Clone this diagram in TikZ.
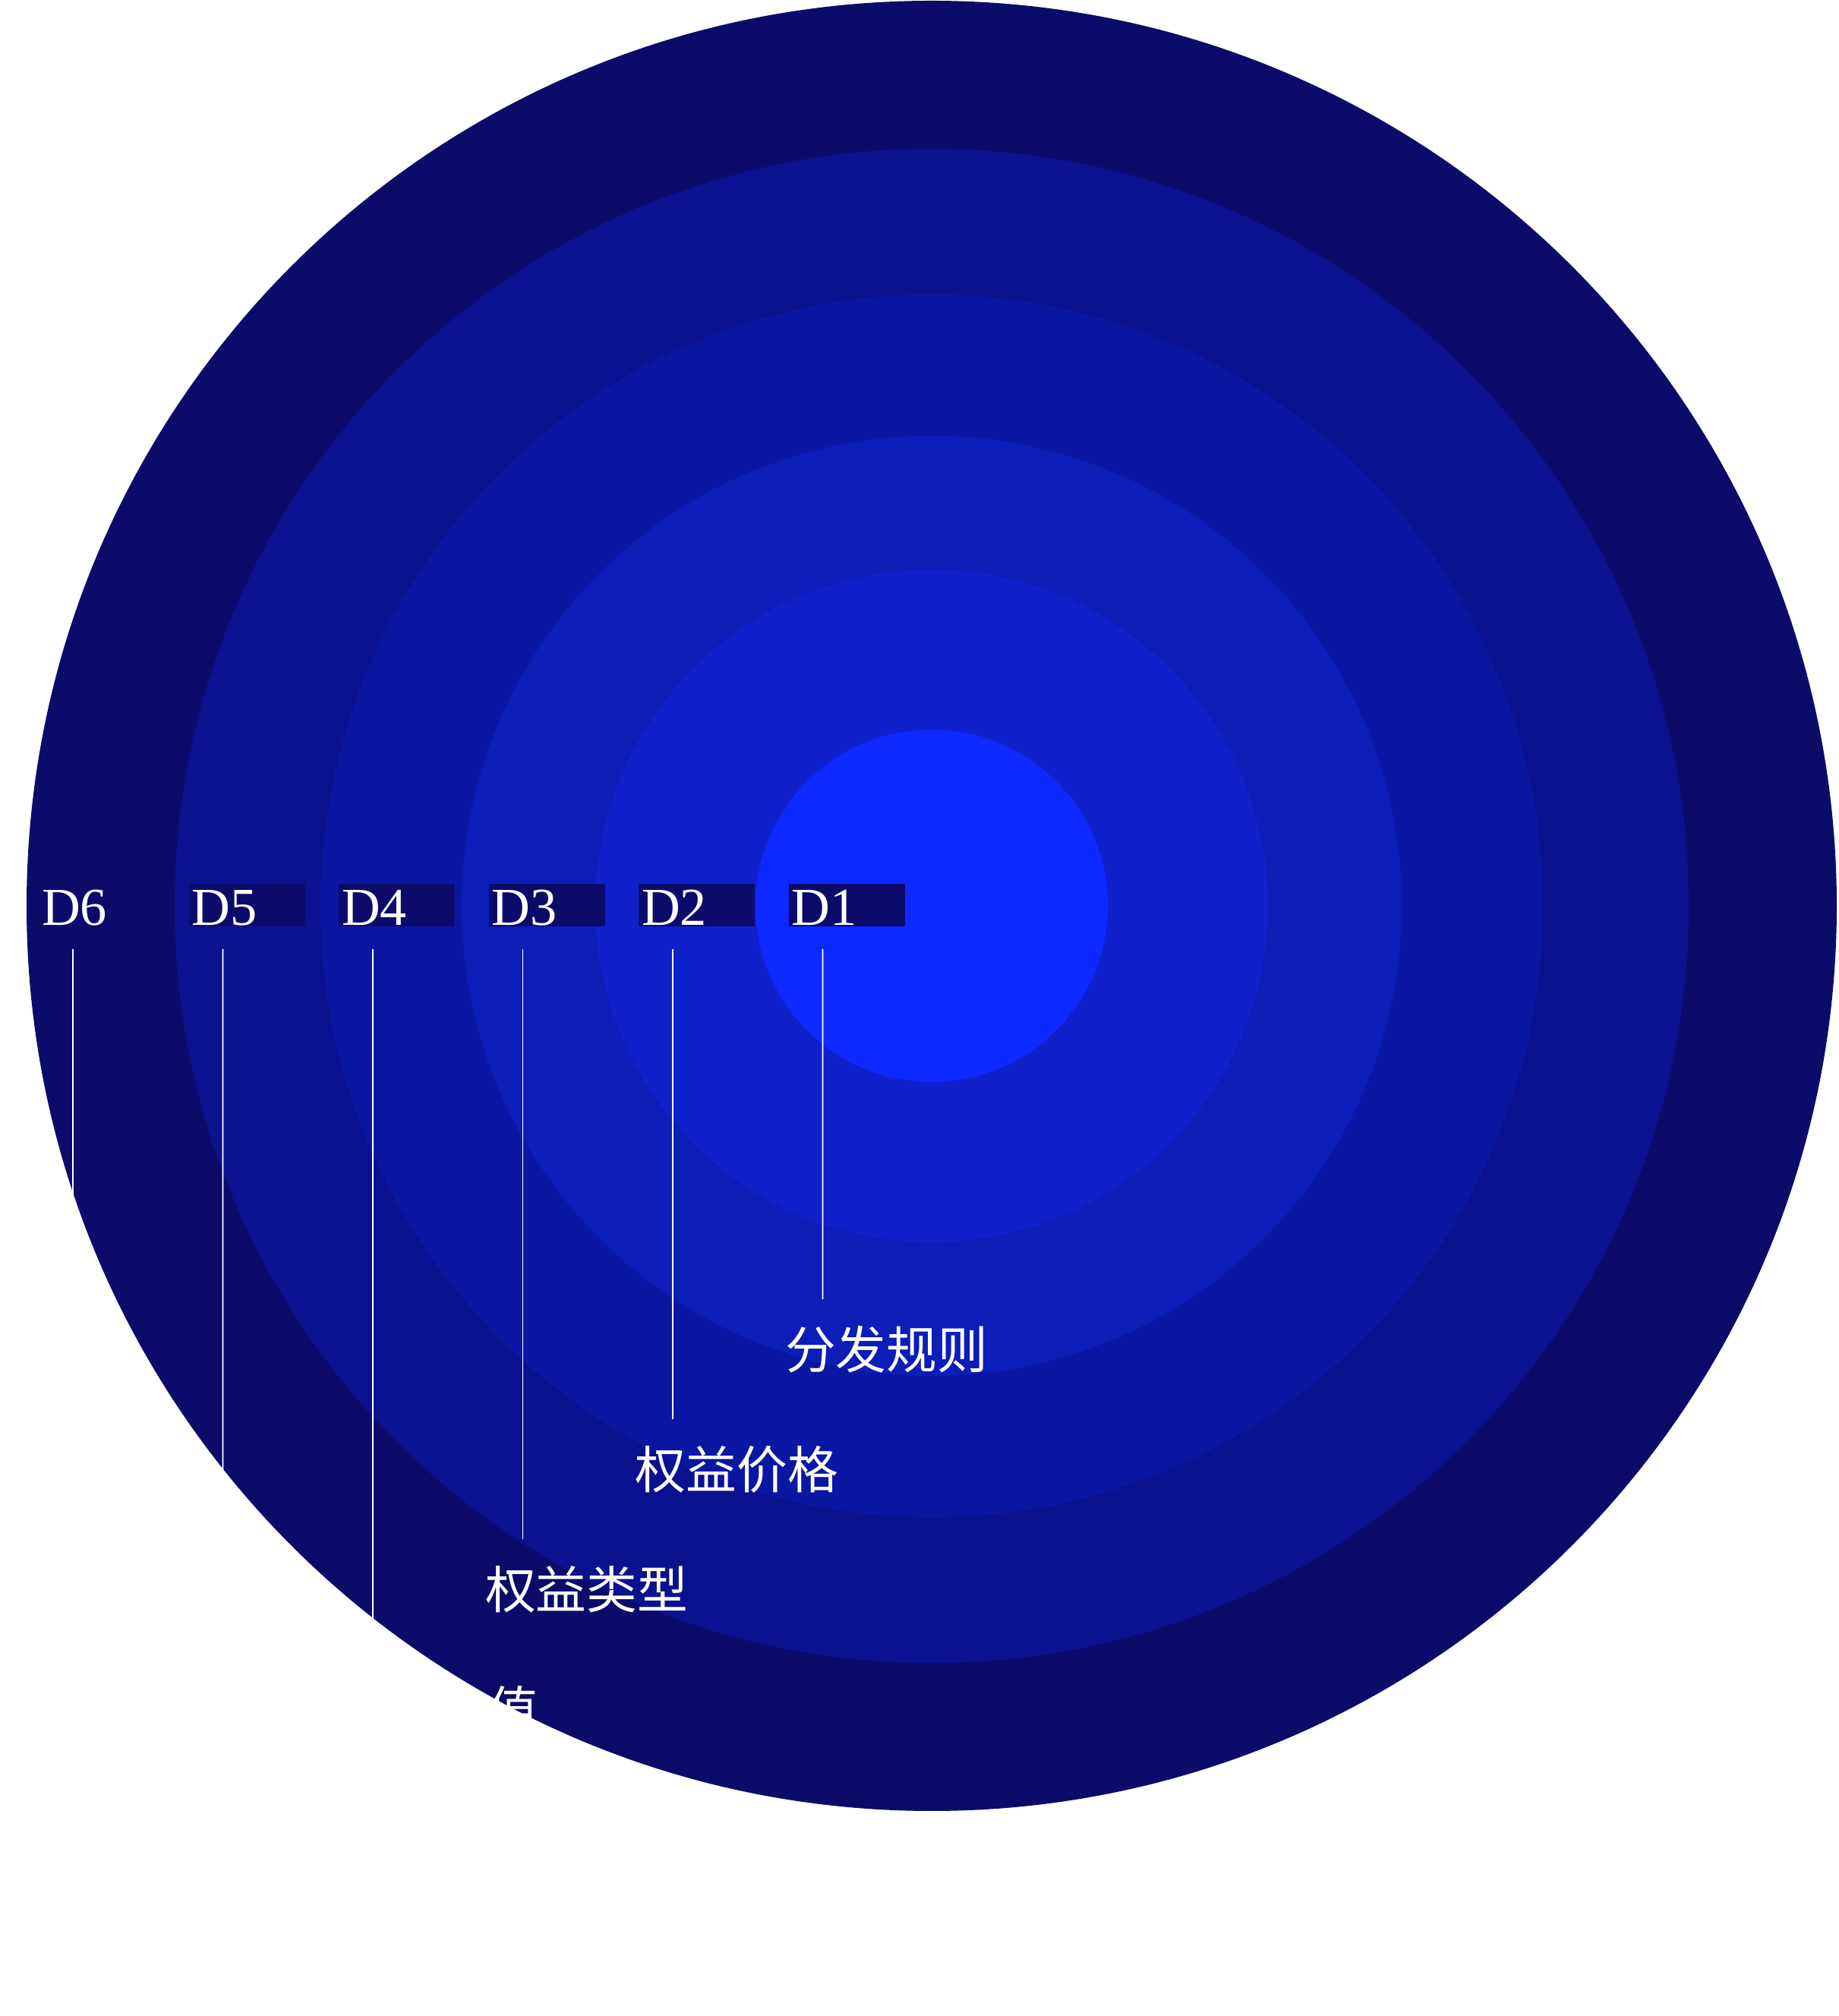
\documentclass[tikz,border=0pt]{standalone}
\usepackage{fontspec}
\newfontfamily\cjk{Noto Sans CJK SC}
\newfontfamily\dfont{Liberation Serif}
\usepackage{tikz}
\definecolor{ring6}{RGB}{11,12,106}
\definecolor{ring5}{RGB}{11,18,144}
\definecolor{ring4}{RGB}{11,23,163}
\definecolor{ring3}{RGB}{13,29,184}
\definecolor{ring2}{RGB}{14,33,203}
\definecolor{ring1}{RGB}{14,41,255}

\begin{document}
\begin{tikzpicture}[
  x=1cm, y=1cm,
  dbox/.style={fill=ring6, anchor=south west, inner xsep=0.04cm, inner ysep=0.01cm,
               text width=1.45cm, align=left, text height=0.53cm, text depth=0.01cm,
               font=\dfont\fontsize{20}{24}\selectfont, text=white},
  lbl/.style={anchor=base west, inner sep=0pt, text=white,
              font=\cjk\fontsize{19}{23}\selectfont},
  lead/.style={draw=white, line width=0.45pt}
]
\useasboundingbox (0,0) rectangle (24.21,26.55);

%% ---- anillos ----
\fill[ring6] (12.27,14.62) circle (11.92);
\fill[ring5] (12.27,14.62) circle (9.97);
\fill[ring4] (12.27,14.62) circle (8.05);
\fill[ring3] (12.27,14.62) circle (6.19);
\fill[ring2] (12.27,14.62) circle (4.43);
\fill[ring1] (12.27,14.62) circle (2.32);

%% ---- etiquetas D ----
\node[dbox] (d6) at ( 0.505,14.34) {D6};
\node[dbox] (d5) at ( 2.480,14.34) {D5};
\node[dbox] (d4) at ( 4.455,14.34) {D4};
\node[dbox] (d3) at ( 6.430,14.34) {D3};
\node[dbox] (d2) at ( 8.405,14.34) {D2};
\node[dbox] (d1) at (10.380,14.34) {D1};

%% ---- nombres ----
\node[lbl] (lbl1) at (10.335,8.52) {分发规则};
\node[lbl] (lbl2) at ( 8.360,6.94) {权益价格};
\node[lbl] (lbl3) at ( 6.385,5.36) {权益类型};
\node[lbl] (lbl4) at ( 4.410,3.78) {\hspace*{3em}值};
\coordinate (e5) at (2.935,3.12);
\coordinate (e6) at (0.960,1.54);

%% ---- lineas ----
\draw[lead] ([shift={(0.455,-0.29)}]d1.south west) -- ([shift={(0.50,0.92)}]lbl1.base west);
\draw[lead] ([shift={(0.455,-0.29)}]d2.south west) -- ([shift={(0.50,0.92)}]lbl2.base west);
\draw[lead] ([shift={(0.455,-0.29)}]d3.south west) -- ([shift={(0.50,0.92)}]lbl3.base west);
\draw[lead] ([shift={(0.455,-0.29)}]d4.south west) -- ([shift={(0.50,0.92)}]lbl4.base west);
\draw[lead] ([shift={(0.455,-0.29)}]d5.south west) -- (e5);
\draw[lead] ([shift={(0.455,-0.29)}]d6.south west) -- (e6);

\end{tikzpicture}
\end{document}
